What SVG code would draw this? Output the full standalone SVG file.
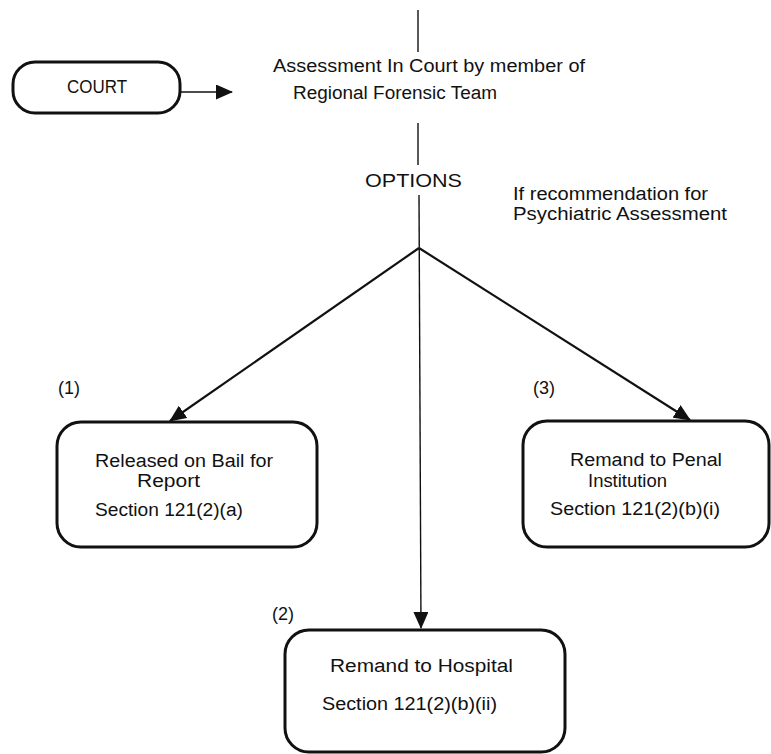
<svg xmlns="http://www.w3.org/2000/svg" width="771" height="754" viewBox="0 0 771 754">
<defs>
<style>
text{font-family:"Liberation Sans","DejaVu Sans",sans-serif;font-size:18px;fill:#111}
.box{fill:#fff;stroke:#111;stroke-width:3}
.ln{fill:none;stroke:#111;stroke-width:1.4}
.dg{fill:none;stroke:#111;stroke-width:2.2}
</style>
<marker id="ah" markerUnits="userSpaceOnUse" markerWidth="17" markerHeight="15" refX="16" refY="7.5" orient="auto" viewBox="0 0 17 15">
<path d="M0,0 L17,7.5 L0,15 z" fill="#111"/>
</marker>
</defs>
<rect width="771" height="754" fill="#fff"/>
<g id="connectors">
<line class="ln" x1="418" y1="10" x2="418" y2="52"/>
<line class="ln" x1="418" y1="123" x2="418" y2="165"/>
<line class="ln" x1="181" y1="92" x2="232" y2="92" marker-end="url(#ah)"/>
<line class="ln" x1="419" y1="195" x2="421" y2="628" marker-end="url(#ah)"/>
<line class="dg" x1="419" y1="248" x2="170" y2="421" marker-end="url(#ah)"/>
<line class="dg" x1="419" y1="248" x2="690" y2="420" marker-end="url(#ah)"/>
</g>
<g id="court">
<rect class="box" x="13" y="62" width="167" height="51" rx="22"/>
<text x="67" y="93" font-size="19" textLength="60" lengthAdjust="spacingAndGlyphs">COURT</text>
</g>
<g id="assessment">
<text x="273" y="72" textLength="312" lengthAdjust="spacingAndGlyphs">Assessment In Court by member of</text>
<text x="293" y="99" textLength="204" lengthAdjust="spacingAndGlyphs">Regional Forensic Team</text>
</g>
<g id="options">
<text x="365" y="187" font-size="21" textLength="97" lengthAdjust="spacingAndGlyphs">OPTIONS</text>
</g>
<g id="note">
<text x="513" y="200" textLength="195" lengthAdjust="spacingAndGlyphs">If recommendation for</text>
<text x="513" y="220" textLength="214" lengthAdjust="spacingAndGlyphs">Psychiatric  Assessment</text>
</g>
<g id="bail">
<text x="58" y="394">(1)</text>
<rect class="box" x="57" y="422" width="260" height="125" rx="24"/>
<text x="95" y="467" textLength="178" lengthAdjust="spacingAndGlyphs">Released on Bail for</text>
<text x="137" y="487" textLength="63" lengthAdjust="spacingAndGlyphs">Report</text>
<text x="95" y="516" textLength="148" lengthAdjust="spacingAndGlyphs">Section 121(2)(a)</text>
</g>
<g id="penal">
<text x="533" y="394">(3)</text>
<rect class="box" x="523" y="421" width="246" height="126" rx="24"/>
<text x="570" y="466" textLength="152" lengthAdjust="spacingAndGlyphs">Remand to Penal</text>
<text x="588" y="487" textLength="79" lengthAdjust="spacingAndGlyphs">Institution</text>
<text x="550" y="515" textLength="170" lengthAdjust="spacingAndGlyphs">Section 121(2)(b)(i)</text>
</g>
<g id="hospital">
<text x="272" y="620">(2)</text>
<rect class="box" x="285" y="630" width="280" height="122" rx="24"/>
<text x="330" y="672" textLength="183" lengthAdjust="spacingAndGlyphs">Remand to Hospital</text>
<text x="322" y="710" textLength="175" lengthAdjust="spacingAndGlyphs">Section 121(2)(b)(ii)</text>
</g>
</svg>
